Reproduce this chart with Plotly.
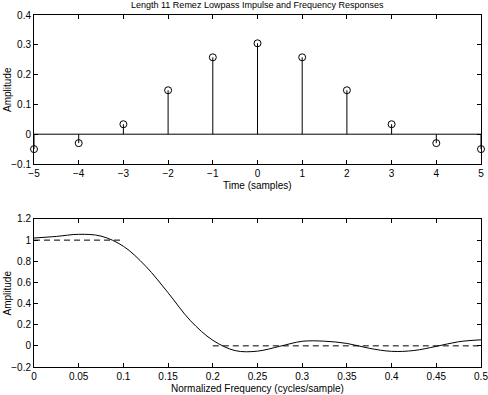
import plotly.graph_objects as go
from plotly.subplots import make_subplots

# Impulse response
n_samples = [-5, -4, -3, -2, -1, 0, 1, 2, 3, 4, 5]
h_values = [-0.050, -0.030, 0.0335, 0.1475, 0.258, 0.305, 0.258, 0.1475, 0.0335, -0.030, -0.050]

# Frequency response
freq = [0, 0.025, 0.05, 0.075, 0.1, 0.125, 0.15, 0.175, 0.2, 0.225, 0.25, 0.275,
        0.3, 0.325, 0.35, 0.375, 0.4, 0.425, 0.45, 0.475, 0.5]
amp = [1.02, 1.035, 1.055, 1.038, 0.942, 0.753, 0.502, 0.238, 0.053, -0.045, -0.050, -0.004,
       0.043, 0.044, 0.023, -0.023, -0.052, -0.044, -0.005, 0.039, 0.057]

# Desired response (dashed)
pass_f = [0, 0.1]
pass_a = [1, 1]
stop_f = [0.2, 0.5]
stop_a = [0, 0]

title_text = "Length 11 Remez Lowpass Impulse and Frequency Responses"
top_xlabel = "Time (samples)"
bottom_xlabel = "Normalized Frequency (cycles/sample)"
ylabel = "Amplitude"

fig = make_subplots(rows=2, cols=1)

stem_x, stem_y = [], []
for xv, yv in zip(n_samples, h_values):
    stem_x += [xv, xv, None]
    stem_y += [0, yv, None]

fig.add_trace(go.Scatter(x=[n_samples[0], n_samples[-1]], y=[0, 0], mode="lines",
                         line=dict(color="black", width=1), showlegend=False), row=1, col=1)
fig.add_trace(go.Scatter(x=stem_x, y=stem_y, mode="lines",
                         line=dict(color="black", width=1), showlegend=False), row=1, col=1)
fig.add_trace(go.Scatter(x=n_samples, y=h_values, mode="markers", cliponaxis=False,
                         marker=dict(symbol="circle-open", size=7, color="black",
                                     line=dict(width=1, color="black")),
                         showlegend=False), row=1, col=1)

fig.add_trace(go.Scatter(x=pass_f, y=pass_a, mode="lines",
                         line=dict(color="black", width=1, dash="6px,4px"), showlegend=False), row=2, col=1)
fig.add_trace(go.Scatter(x=stop_f, y=stop_a, mode="lines",
                         line=dict(color="black", width=1, dash="6px,4px"), showlegend=False), row=2, col=1)
fig.add_trace(go.Scatter(x=freq, y=amp, mode="lines", line_shape="spline",
                         line=dict(color="black", width=1), showlegend=False), row=2, col=1)

fam = "Liberation Sans, Arial, sans-serif"
font = dict(family=fam, size=10, color="black")
axis_common = dict(showline=True, linecolor="black", linewidth=1, mirror="ticks",
                   ticks="inside", ticklen=4, tickcolor="black", showgrid=False,
                   zeroline=False, tickfont=font, automargin=False,
                   ticklabeloverflow="allow")

fig.update_xaxes(**axis_common)
fig.update_yaxes(**axis_common)

top_dom = [0.5767, 1]
bot_dom = [0, 0.4205]

fig.update_layout(
    xaxis=dict(domain=[0, 1], range=[-5, 5], tickvals=list(range(-5, 6))),
    yaxis=dict(domain=top_dom, range=[-0.1, 0.4], tickvals=[-0.1, 0, 0.1, 0.2, 0.3, 0.4]),
    xaxis2=dict(domain=[0, 1], range=[0, 0.5], tickvals=[0, 0.05, 0.1, 0.15, 0.2, 0.25, 0.3, 0.35, 0.4, 0.45, 0.5],
                ticktext=["0", "0.05", "0.1", "0.15", "0.2", "0.25", "0.3", "0.35", "0.4", "0.45", "0.5"]),
    yaxis2=dict(domain=bot_dom, range=[-0.2, 1.2], tickvals=[-0.2, 0, 0.2, 0.4, 0.6, 0.8, 1, 1.2]),
    width=488, height=395,
    margin=dict(l=34, r=7, t=15, b=28, autoexpand=False),
    paper_bgcolor="white", plot_bgcolor="white",
    font=font,
)

ann = [
    dict(text=title_text, x=0.5, xref="paper", y=1, yref="paper", yshift=3, xanchor="center", yanchor="bottom",
         showarrow=False, font=dict(family=fam, size=9, color="black")),
    dict(text=top_xlabel, x=0.5, xref="paper", y=top_dom[0], yref="paper", yshift=-14, xanchor="center",
         yanchor="top", showarrow=False, font=font),
    dict(text=bottom_xlabel, x=0.5, xref="paper", y=bot_dom[0], yref="paper", yshift=-14, xanchor="center",
         yanchor="top", showarrow=False, font=font),
    dict(text=ylabel, x=0, xref="paper", xshift=-34, y=(top_dom[0] + top_dom[1]) / 2, yref="paper",
         xanchor="left", yanchor="middle", textangle=-90, showarrow=False, font=font),
    dict(text=ylabel, x=0, xref="paper", xshift=-34, y=(bot_dom[0] + bot_dom[1]) / 2, yref="paper",
         xanchor="left", yanchor="middle", textangle=-90, showarrow=False, font=font),
]
fig.update_layout(annotations=ann)

fig.write_html("out.html", config={"displayModeBar": False},
               post_script="document.body.style.margin='0px';")
